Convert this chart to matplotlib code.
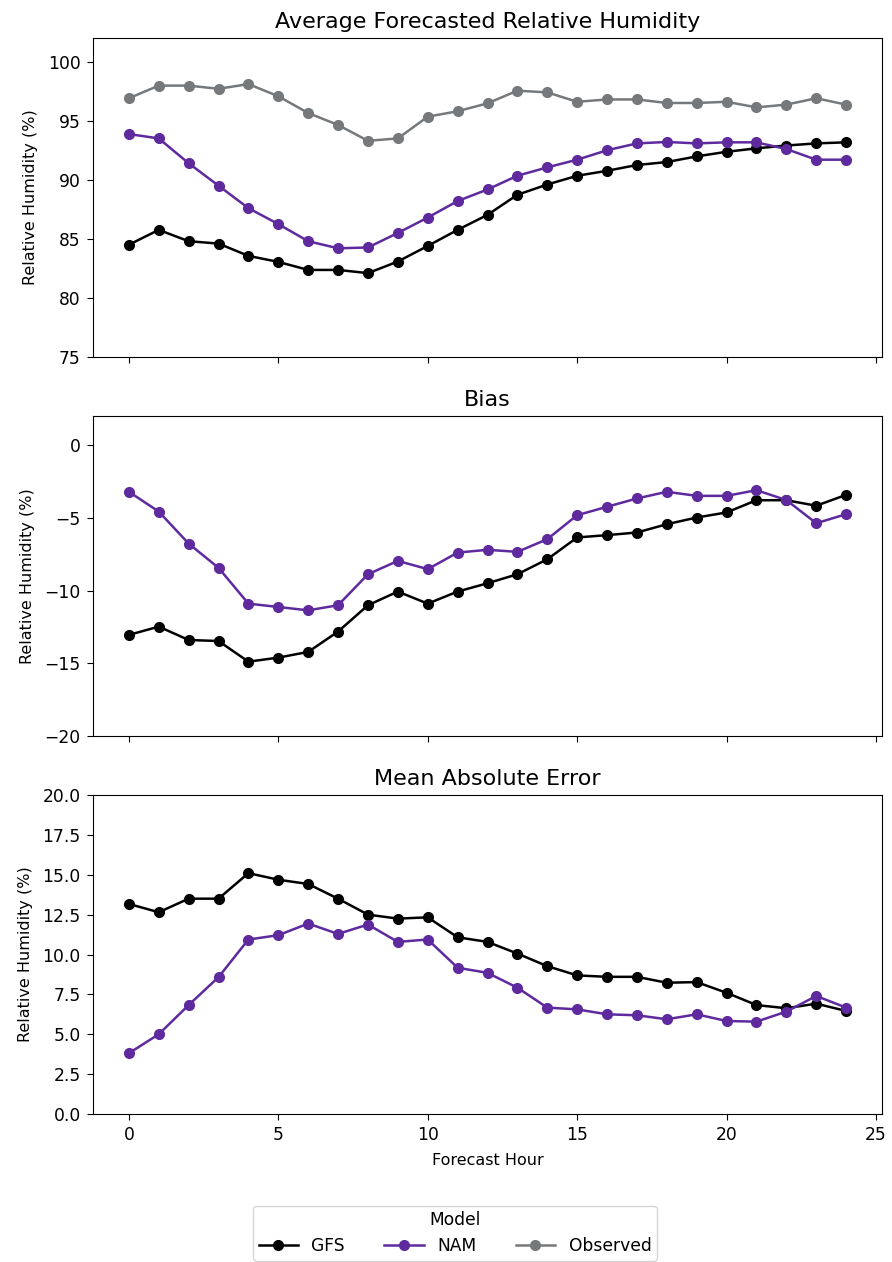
import matplotlib
matplotlib.use("Agg")
import matplotlib.pyplot as plt

hours = list(range(25))

avg_gfs = [84.5, 85.76, 84.8, 84.6, 83.56, 83.05, 82.37, 82.37, 82.1, 83.08, 84.4, 85.76, 87.03,
           88.73, 89.6, 90.34, 90.76, 91.25, 91.5, 91.98, 92.37, 92.66, 92.9, 93.08, 93.17]
avg_nam = [93.87, 93.5, 91.4, 89.5, 87.6, 86.25, 84.8, 84.2, 84.27, 85.5, 86.8, 88.2, 89.18,
           90.34, 91.05, 91.7, 92.5, 93.08, 93.2, 93.08, 93.17, 93.17, 92.6, 91.7, 91.7]
avg_obs = [96.9, 97.97, 97.97, 97.7, 98.1, 97.07, 95.65, 94.64, 93.3, 93.5, 95.34, 95.8, 96.47,
           97.54, 97.4, 96.6, 96.8, 96.8, 96.5, 96.5, 96.6, 96.13, 96.36, 96.9, 96.36]

bias_gfs = [-13.05, -12.48, -13.4, -13.47, -14.89, -14.61, -14.22, -12.82, -11.01, -10.07, -10.9,
            -10.07, -9.5, -8.88, -7.85, -6.35, -6.19, -6.01, -5.44, -4.98, -4.63, -3.79, -3.79,
            -4.17, -3.42]
bias_nam = [-3.21, -4.57, -6.77, -8.44, -10.9, -11.13, -11.36, -11.01, -8.88, -7.96, -8.53, -7.39,
            -7.2, -7.34, -6.47, -4.82, -4.24, -3.67, -3.21, -3.49, -3.49, -3.1, -3.78, -5.37,
            -4.75]

mae_gfs = [13.17, 12.65, 13.5, 13.5, 15.1, 14.69, 14.42, 13.5, 12.5, 12.25, 12.33, 11.08, 10.79,
           10.06, 9.27, 8.69, 8.6, 8.6, 8.23, 8.27, 7.6, 6.83, 6.63, 6.92, 6.46]
mae_nam = [3.81, 5.0, 6.83, 8.58, 10.94, 11.21, 11.94, 11.29, 11.88, 10.79, 10.94, 9.17, 8.85,
           7.92, 6.67, 6.56, 6.25, 6.19, 5.94, 6.25, 5.83, 5.79, 6.42, 7.4, 6.67]

titles = ["Average Forecasted Relative Humidity", "Bias", "Mean Absolute Error"]
ylabel = "Relative Humidity (%)"
xlabel = "Forecast Hour"
legend_title = "Model"
labels = ["GFS", "NAM", "Observed"]

C_GFS = "black"
C_NAM = "#5e2a9e"
C_OBS = "#76797c"

FS = 11.5
TFS = 12.3
plt.rcParams["font.family"] = ["DejaVu Sans"]

fig = plt.figure(figsize=(8.92, 12.62), dpi=100)
W, H = 892, 1262
left, right = 93 / W, 882 / W
boxes = [(38, 357), (416, 736), (795, 1114)]
axes = []
for top, bot in boxes:
    ax = fig.add_axes([left, 1 - bot / H, right - left, (bot - top) / H])
    axes.append(ax)

kw = dict(marker="o", markersize=7, linewidth=1.8)

ax = axes[0]
l1, = ax.plot(hours, avg_gfs, color=C_GFS, label=labels[0], **kw)
l2, = ax.plot(hours, avg_nam, color=C_NAM, label=labels[1], **kw)
l3, = ax.plot(hours, avg_obs, color=C_OBS, label=labels[2], **kw)
ax.set_ylim(75, 102)
ax.set_yticks([75, 80, 85, 90, 95, 100])

ax = axes[1]
ax.plot(hours, bias_gfs, color=C_GFS, **kw)
ax.plot(hours, bias_nam, color=C_NAM, **kw)
ax.set_ylim(-20, 2)
ax.set_yticks([-20, -15, -10, -5, 0])

ax = axes[2]
ax.plot(hours, mae_gfs, color=C_GFS, **kw)
ax.plot(hours, mae_nam, color=C_NAM, **kw)
ax.set_ylim(0, 20)
ax.set_yticks([0, 2.5, 5, 7.5, 10, 12.5, 15, 17.5, 20])
ax.set_yticklabels(["0.0", "2.5", "5.0", "7.5", "10.0", "12.5", "15.0", "17.5", "20.0"])
ax.set_xlabel(xlabel, fontsize=FS, labelpad=6)

for i, ax in enumerate(axes):
    ax.set_xlim(-1.2, 25.2)
    ax.set_xticks([0, 5, 10, 15, 20, 25])
    ax.set_title(titles[i], fontsize=16, pad=7)
    ax.set_ylabel(ylabel, fontsize=FS, labelpad=7)
    ax.tick_params(labelsize=TFS, length=4.3, pad=4.5)
    if i < 2:
        ax.set_xticklabels([])

leg = fig.legend(handles=[l1, l2, l3], labels=labels, title=legend_title, ncol=3,
                 loc="lower center", bbox_to_anchor=(455 / W, 1.5 / H),
                 fontsize=TFS, title_fontsize=TFS, frameon=True,
                 handlelength=2.3, handletextpad=0.8, columnspacing=2.3,
                 borderpad=0.3, borderaxespad=0.0)

fig.savefig("out.png", dpi=100)
